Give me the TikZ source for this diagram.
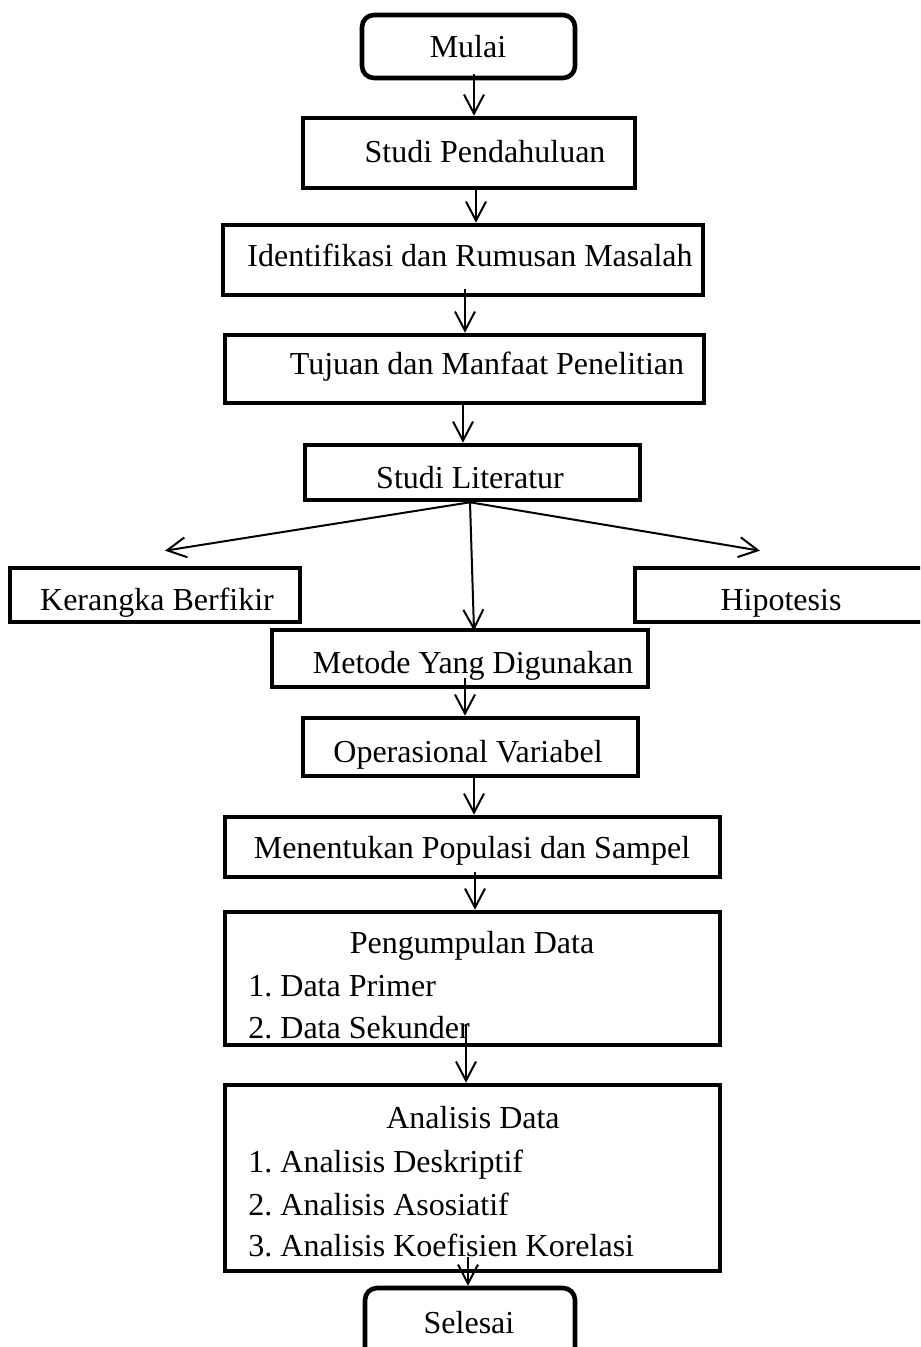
\documentclass[tikz,border=0pt]{standalone}
\usepackage{fontspec}
\setmainfont{Liberation Serif}
\usetikzlibrary{arrows.meta,calc}
\tikzset{
  box/.style={draw, line width=2.3pt, fill=white, inner sep=0pt},
  term/.style={box, rounded corners=6pt},
  lbl/.style={anchor=base, inner sep=0pt, font=\fontsize{16}{19}\selectfont},
  item/.style={anchor=base west, inner sep=0pt, font=\fontsize{16}{19}\selectfont},
  arr/.style={line width=1pt, -{Straight Barb[length=9.5pt,width=10pt,line width=1pt]}}
}
\newcommand\mkbox[6]{\node[#1, minimum width={(#5-#3)*0.5pt}, minimum height={(#6-#4)*0.5pt}] (#2) at ({(#3+#5)/2},{(#4+#6)/2}) {};}
\frenchspacing
\begin{document}
\frenchspacing
\begin{tikzpicture}[x=0.5pt,y=-0.5pt]
\useasboundingbox (0,0) rectangle (920,1347);
\clip (0,0) rectangle (920,1347);
\fill[white] (0,0) rectangle (920,1347);
% boxes
\mkbox{term}{mulai}{362}{15}{575}{78}
\mkbox{box}{sp}{303}{118}{635}{188}
\mkbox{box}{ident}{223}{225}{703}{295}
\mkbox{box}{tujuan}{225}{335}{704}{403}
\mkbox{box}{lit}{305}{445}{640}{500}
\mkbox{box}{kb}{10}{568}{300}{622}
\mkbox{box}{hip}{635}{568}{935}{622}
\mkbox{box}{met}{272}{630}{648}{687}
\mkbox{box}{ops}{303}{718}{638}{776}
\mkbox{box}{pop}{225}{817}{720}{877}
\mkbox{box}{pd}{225}{912}{720}{1045}
\mkbox{box}{ad}{225}{1085}{720}{1271}
\mkbox{term}{sel}{365}{1288}{575}{1370}
% texts
\node[lbl] (tmulai) at (468,58) {Mulai};
\node[lbl] (tsp) at (485,163) {Studi Pendahuluan};
\node[lbl] (tident) at (470,267) {Identifikasi dan Rumusan Masalah};
\node[lbl] (ttujuan) at (487,375) {Tujuan dan Manfaat Penelitian};
\node[lbl] (tlit) at (470,488) {Studi Literatur};
\node[lbl] (tkb) at (157,610) {Kerangka Berfikir};
\node[lbl] (thip) at (781,610) {Hipotesis};
\node[lbl] (tmet) at (473,673) {Metode Yang Digunakan};
\node[lbl] (tops) at (468,762) {Operasional Variabel};
\node[lbl] (tpop) at (472,858) {Menentukan Populasi dan Sampel};
\node[lbl] (tpd) at (472,953) {Pengumpulan Data};
\node[item] (tpd1) at (248,996) {1. Data Primer};
\node[item] (tpd2) at (248,1038) {2. Data Sekunder};
\node[lbl] (tad) at (473,1128) {Analisis Data};
\node[item] (tad1) at (248,1172) {1. Analisis Deskriptif};
\node[item] (tad2) at (248,1215) {2. Analisis Asosiatif};
\node[item] (tad3) at (248,1256) {3. Analisis Koefisien Korelasi};
\node[lbl] (tsel) at (469,1333) {Selesai};
% arrows
\draw[arr] ($(mulai.south -| 474,0)+(0,-6)$) -- (sp.north -| 474,0);
\draw[arr] ($(sp.south -| 476,0)+(0,-3)$) -- (ident.north -| 476,0);
\draw[arr] ($(ident.south -| 465,0)+(0,-8)$) -- (tujuan.north -| 465,0);
\draw[arr] ($(tujuan.south -| 463,0)+(0,-4)$) -- (lit.north -| 463,0);
\draw[arr] (lit.south -| 470,0) -- ($(kb.north)+(10,-15)$);
\draw[arr] (lit.south -| 470,0) -- ($(hip.north)+(-25,-15)$);
\draw[arr] (lit.south -| 470,0) -- ($(met.north -| 474,0)+(0,3)$);
\draw[arr] ($(met.south -| 465,0)+(0,-11)$) -- (ops.north -| 465,0);
\draw[arr] (ops.south -| 474,0) -- (pop.north -| 474,0);
\draw[arr] ($(pop.south -| 475,0)+(0,-7)$) -- (pd.north -| 475,0);
\draw[arr] ($(pd.south -| 466,0)+(0,-23)$) -- (ad.north -| 466,0);
\draw[arr] ($(ad.south -| 468,0)+(0,-16)$) -- (sel.north -| 468,0);
\end{tikzpicture}
\end{document}
